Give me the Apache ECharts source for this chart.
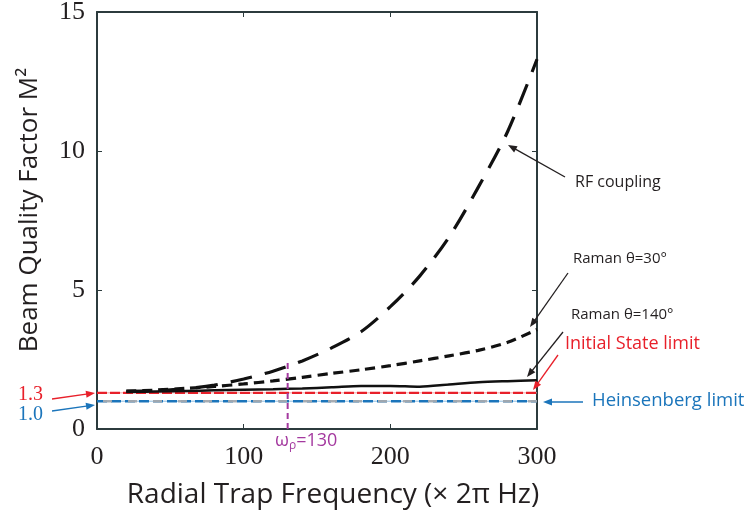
<!DOCTYPE html>
<html><head><meta charset="utf-8">
<script src="https://cdn.jsdelivr.net/npm/echarts@6/dist/echarts.min.js"></script>
<style>html,body{margin:0;padding:0;background:#fff}#c{width:749px;height:510px}</style>
</head><body><div id="c"></div>
<script>
// ---- data ----
const xValues      = [20, 40, 60, 80, 100, 120, 140, 160, 180, 200, 220, 240, 260, 280, 300];
const rfCoupling   = [1.35, 1.38, 1.45, 1.58, 1.8, 2.08, 2.45, 2.92, 3.5, 4.4, 5.5, 6.9, 8.7, 10.7, 13.3];
const raman30      = [1.36, 1.40, 1.46, 1.53, 1.62, 1.73, 1.86, 2.0, 2.13, 2.28, 2.45, 2.63, 2.83, 3.12, 3.58];
const raman140     = [1.33, 1.35, 1.37, 1.39, 1.41, 1.43, 1.46, 1.50, 1.55, 1.55, 1.52, 1.60, 1.68, 1.72, 1.75];
const initialStateLimit = 1.3;
const heisenbergLimit   = 1.0;
const omegaRho          = 130;
const omegaRhoTop       = 2.45;
const xRange = [0, 300];
const yRange = [0, 15];

const pairs = ys => xValues.map((x, i) => [x, ys[i]]);
const INK = '#231f20', RED = '#e8202a', BLUE = '#1b75bb', PURPLE = '#a4399f';
const SANS = '"Open Sans", "Noto Sans", sans-serif';
const SERIF = '"Liberation Serif", "DejaVu Serif", serif';

function arrow(x1, y1, x2, y2, color) {
  const dx = x2 - x1, dy = y2 - y1, L = Math.hypot(dx, dy);
  const ux = dx / L, uy = dy / L, hl = 9, hw = 3.5;
  const bx = x2 - ux * hl, by = y2 - uy * hl;
  return [
    { type: 'line', silent: true, z: 100, shape: { x1, y1, x2: bx + ux * 2, y2: by + uy * 2 }, style: { stroke: color, lineWidth: 1.3 } },
    { type: 'polygon', silent: true, z: 100, shape: { points: [[x2, y2], [bx - uy * hw, by + ux * hw], [bx + uy * hw, by - ux * hw]] }, style: { fill: color } }
  ];
}
function label(text, x, y, color, size, family) {
  return { type: 'text', silent: true, x, y, style: { text, fill: color, font: size + 'px ' + (family || SANS), textVerticalAlign: 'middle', textAlign: 'left' } };
}

const chart = echarts.init(document.getElementById('c'));
const axisLine = { show: true, onZero: false, lineStyle: { color: '#2c3b3d', width: 2 } };
const tick = { show: true, inside: true, length: 5, lineStyle: { color: '#2c3b3d', width: 1 } };
const limitLine = v => [[xRange[0], v], [xRange[1], v]];

chart.setOption({
  animation: false,
  backgroundColor: '#fff',
  grid: { left: 97, right: 212, top: 12, bottom: 81, containLabel: false, outerBoundsMode: 'none' },
  xAxis: [
    { type: 'value', min: xRange[0], max: xRange[1], interval: 100, position: 'bottom',
      axisLine, axisTick: tick, splitLine: { show: false },
      axisLabel: { color: INK, fontFamily: SERIF, fontSize: 26, margin: 15 },
      name: 'Radial Trap Frequency (× 2π Hz)', nameLocation: 'middle', nameGap: 52,
      nameTextStyle: { color: INK, fontFamily: SANS, fontSize: 28, padding: [0, 0, 0, 32] } },
    { type: 'value', min: xRange[0], max: xRange[1], interval: 100, position: 'top',
      axisLine, axisTick: tick, axisLabel: { show: false }, splitLine: { show: false } }
  ],
  yAxis: [
    { type: 'value', min: yRange[0], max: yRange[1], interval: 5, position: 'left',
      axisLine, axisTick: tick, splitLine: { show: false },
      axisLabel: { color: INK, fontFamily: SERIF, fontSize: 26, margin: 12 },
      name: 'Beam Quality Factor M²', nameLocation: 'middle', nameGap: 54, nameRotate: 90,
      nameTextStyle: { color: INK, fontFamily: SANS, fontSize: 26, padding: [0, 0, 0, 21] } },
    { type: 'value', min: yRange[0], max: yRange[1], interval: 5, position: 'right',
      axisLine, axisTick: tick, axisLabel: { show: false }, splitLine: { show: false } }
  ],
  series: [
    { name: 'Heisenberg limit (thin)', type: 'line', symbol: 'none', z: 2,
      data: limitLine(heisenbergLimit), lineStyle: { color: '#8dbde3', width: 1 } },
    { name: 'Heisenberg limit', type: 'line', symbol: 'none', z: 3,
      data: limitLine(heisenbergLimit), lineStyle: { color: BLUE, width: 2.5, type: [10, 4] } },
    { name: 'Heisenberg limit (grey)', type: 'line', symbol: 'none', z: 4,
      data: limitLine(heisenbergLimit), lineStyle: { color: 'rgba(165,170,175,0.95)', width: 2.5, type: [9, 16], dashOffset: -6 } },
    { name: 'Initial State limit (thin)', type: 'line', symbol: 'none', z: 2,
      data: limitLine(initialStateLimit), lineStyle: { color: '#f4a0a3', width: 1 } },
    { name: 'Initial State limit', type: 'line', symbol: 'none', z: 3,
      data: limitLine(initialStateLimit), lineStyle: { color: RED, width: 2.3, type: [10, 3] } },
    { name: 'omega', type: 'line', symbol: 'none', z: 6,
      data: [[omegaRho, 0], [omegaRho, omegaRhoTop]],
      lineStyle: { color: PURPLE, width: 2, type: [6, 4] } },
    { name: 'Raman 140', type: 'line', symbol: 'none', smooth: 0.3, z: 5,
      data: pairs(raman140), lineStyle: { color: '#111', width: 2.5 } },
    { name: 'Raman 30', type: 'line', symbol: 'none', smooth: 0.3, z: 5,
      data: pairs(raman30), lineStyle: { color: '#111', width: 3.2, type: [10, 6] } },
    { name: 'RF coupling', type: 'line', symbol: 'none', smooth: 0.3, z: 5,
      data: pairs(rfCoupling), lineStyle: { color: '#111', width: 3.2, type: [22, 13] } }
  ],
  graphic: [].concat(
    arrow(565, 177, 508, 145, INK),
    arrow(568, 273, 530, 327, INK),
    arrow(563, 332, 527, 377, INK),
    arrow(558, 355, 533, 390, RED),
    arrow(583, 402, 543, 402, BLUE),
    arrow(52, 399, 95, 393, RED),
    arrow(52, 411, 95, 405, BLUE),
    [
      label('RF coupling', 575, 182, INK, 16),
      label('Raman θ=30°', 573, 259, INK, 15),
      label('Raman θ=140°', 571, 315, INK, 15),
      label('Initial State limit', 565, 344, RED, 18),
      label('Heinsenberg limit', 592, 401, BLUE, 18.5),
      label('1.3', 18, 395, RED, 20, SERIF),
      label('1.0', 18, 415, BLUE, 20, SERIF),
      { type: 'text', silent: true, x: 275, y: 441,
        style: { text: '{a|ω}{s|ρ}{a|=130}', textVerticalAlign: 'middle', textAlign: 'left',
          rich: { a: { fill: PURPLE, fontSize: 18, fontFamily: SANS },
                  s: { fill: PURPLE, fontSize: 12, fontFamily: SANS, padding: [10, 0, 0, 0] } } } }
    ]
  )
});
</script></body></html>
